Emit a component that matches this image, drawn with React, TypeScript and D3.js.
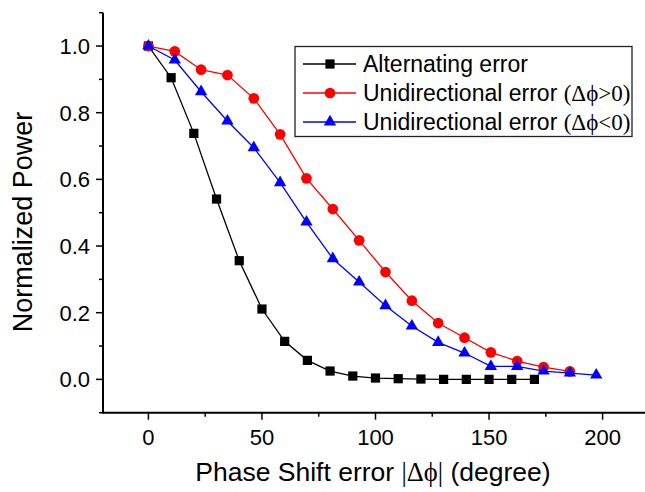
import React from "react";
import * as d3 from "d3";

// Phase shift error (degrees) and normalized power for each error type
const altPhase = [0, 10, 20, 30, 40, 50, 60, 70, 80, 90, 100, 110, 120, 130, 140, 150, 160, 170];
const altPower = [1.0, 0.905, 0.738, 0.541, 0.356, 0.211, 0.114, 0.057, 0.025, 0.01, 0.004, 0.002, 0.001, 0, 0, 0, 0, 0];

const posPhase = [0, 11.6, 23.2, 34.8, 46.4, 58, 69.6, 81.2, 92.8, 104.4, 116, 127.6, 139.2, 150.8, 162.4, 174, 185.6];
const posPower = [1.0, 0.984, 0.929, 0.913, 0.843, 0.735, 0.603, 0.511, 0.417, 0.322, 0.236, 0.169, 0.125, 0.081, 0.055, 0.037, 0.024];

const negPhase = [0, 11.6, 23.2, 34.8, 46.4, 58, 69.6, 81.2, 92.8, 104.4, 116, 127.6, 139.2, 150.8, 162.4, 174, 185.6, 197.2];
const negPower = [1.0, 0.958, 0.863, 0.775, 0.695, 0.59, 0.472, 0.362, 0.292, 0.221, 0.16, 0.111, 0.079, 0.039, 0.039, 0.025, 0.019, 0.013];

const xMajorTicks = [0, 50, 100, 150, 200];
const xMinorTicks = [-25, 25, 75, 125, 175];
const yMajorTicks = [0, 0.2, 0.4, 0.6, 0.8, 1.0];
const yMinorTicks = [-0.1, 0.1, 0.3, 0.5, 0.7, 0.9, 1.1];

const W = 645;
const H = 492;
const SANS = "'Liberation Sans', Arial, sans-serif";
const SERIF = "'Liberation Serif', 'Times New Roman', serif";

type Series = {
  key: string;
  phase: number[];
  power: number[];
  color: string;
  symbol: d3.SymbolType;
  size: number;
};

const series: Series[] = [
  { key: "alt", phase: altPhase, power: altPower, color: "#000000", symbol: d3.symbolSquare, size: 85 },
  { key: "pos", phase: posPhase, power: posPower, color: "#ff0000", symbol: d3.symbolCircle, size: 90 },
  { key: "neg", phase: negPhase, power: negPower, color: "#0000ff", symbol: d3.symbolTriangle, size: 66 },
];

export default function App() {
  const x = d3.scaleLinear().domain([-20, 220]).range([103, 648]);
  const y = d3.scaleLinear().domain([-0.1, 1.1]).range([412.7, 12.7]);
  const x0 = x(-20);
  const y0 = y(-0.1);

  const line = d3
    .line<[number, number]>()
    .x((d) => x(d[0]))
    .y((d) => y(d[1]));

  const legendRows = [
    { s: series[0], label: "Alternating error", extra: "" },
    { s: series[1], label: "Unidirectional error ", extra: "(\u0394\u03d5>0)" },
    { s: series[2], label: "Unidirectional error ", extra: "(\u0394\u03d5<0)" },
  ];

  return (
    <svg
      width={W}
      height={H}
      viewBox={`0 0 ${W} ${H}`}
      style={{ position: "absolute", left: 0, top: 0, background: "#fff" }}
    >
      <rect x={0} y={0} width={W} height={H} fill="#fff" />

      {/* data series */}
      {series.map((s) => {
        const pts = s.phase.map((p, i) => [p, s.power[i]] as [number, number]);
        const sym = d3.symbol().type(s.symbol).size(s.size)();
        return (
          <g key={s.key}>
            <path d={line(pts) || ""} fill="none" stroke={s.color} strokeWidth={1.3} />
            {pts.map((d, i) => (
              <path key={i} d={sym || ""} transform={`translate(${x(d[0])},${y(d[1])})`} fill={s.color} />
            ))}
          </g>
        );
      })}

      {/* axes */}
      <g stroke="#000" strokeWidth={1.5}>
        <line x1={x0} y1={y(1.1)} x2={x0} y2={y0 + 0.75} strokeWidth={2} />
        <line x1={x0 - 0.75} y1={y0} x2={W} y2={y0} strokeWidth={2} />
        {yMajorTicks.map((t) => (
          <line key={"ym" + t} x1={x0 - 7} x2={x0} y1={y(t)} y2={y(t)} />
        ))}
        {yMinorTicks.map((t) => (
          <line key={"yn" + t} x1={x0 - 4} x2={x0} y1={y(t)} y2={y(t)} />
        ))}
        {xMajorTicks.map((t) => (
          <line key={"xm" + t} x1={x(t)} x2={x(t)} y1={y0} y2={y0 + 7} />
        ))}
        {xMinorTicks
          .filter((t) => x(t) >= x0)
          .map((t) => (
            <line key={"xn" + t} x1={x(t)} x2={x(t)} y1={y0} y2={y0 + 4} />
          ))}
      </g>

      {/* tick labels */}
      <g fontFamily={SANS} fontSize={22} fill="#000">
        {yMajorTicks.map((t) => (
          <text key={"yl" + t} x={x0 - 13} y={y(t)} dy="0.36em" textAnchor="end">
            {t.toFixed(1)}
          </text>
        ))}
        {xMajorTicks.map((t) => (
          <text key={"xl" + t} x={x(t)} y={y0 + 32} textAnchor="middle">
            {t}
          </text>
        ))}
      </g>

      {/* axis titles */}
      <text x={373} y={481} textAnchor="middle" fontFamily={SANS} fontSize={26.5} fill="#000">
        Phase Shift error <tspan fontFamily={SERIF}>|{"\u0394\u03d5"}|</tspan> (degree)
      </text>
      <text
        transform={`translate(32,222) rotate(-90)`}
        textAnchor="middle"
        fontFamily={SANS}
        fontSize={27}
        fill="#000"
      >
        Normalized Power
      </text>

      {/* legend */}
      <g>
        <rect x={295} y={46.5} width={337} height={90} fill="#fff" stroke="#222" strokeWidth={1.3} />
        {legendRows.map((r, i) => {
          const ly = 64 + i * 29;
          const sym = d3.symbol().type(r.s.symbol).size(r.s.size)();
          return (
            <g key={r.s.key}>
              <line x1={303} x2={356} y1={ly} y2={ly} stroke={r.s.color} strokeWidth={1.3} />
              <path d={sym || ""} transform={`translate(330,${ly})`} fill={r.s.color} />
              <text x={363} y={ly} dy="0.36em" fontFamily={SANS} fontSize={23} fill="#000">
                {r.label}
                {r.extra && <tspan fontFamily={SERIF}>{r.extra}</tspan>}
              </text>
            </g>
          );
        })}
      </g>
    </svg>
  );
}
